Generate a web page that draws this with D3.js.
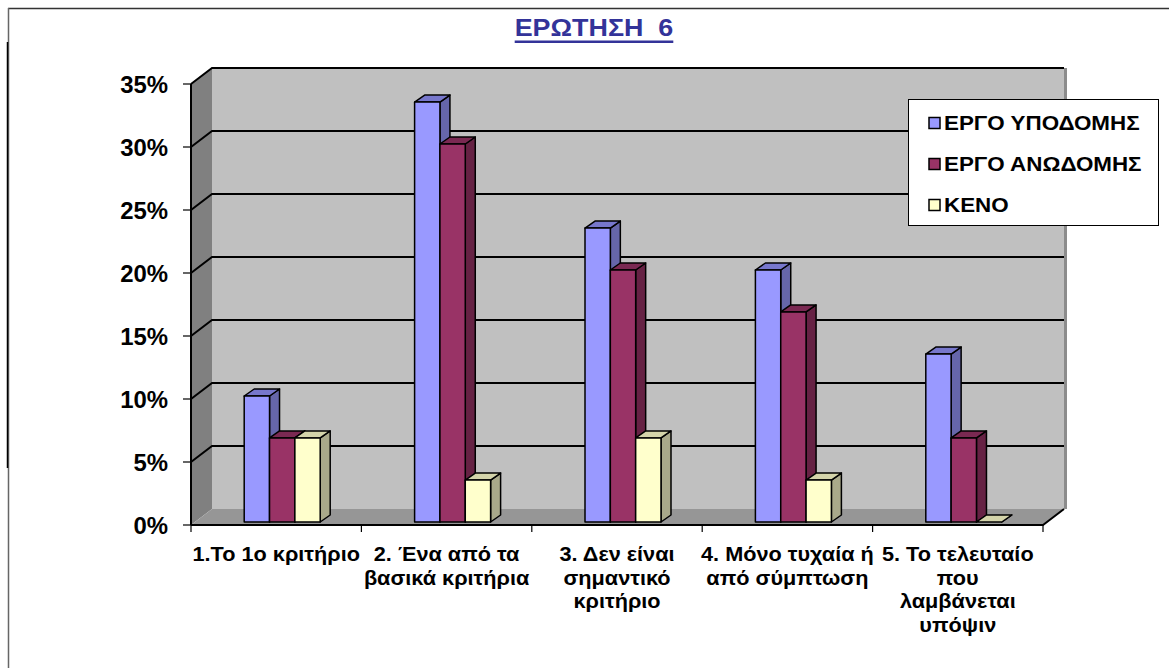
<!DOCTYPE html>
<html>
<head>
<meta charset="utf-8">
<script src="https://cdn.jsdelivr.net/npm/d3@7"></script>
<style>
  body { margin: 0; background: #fff; }
  text { font-family: "Liberation Sans", Arial, sans-serif; font-weight: bold; white-space: pre; }
</style>
</head>
<body>
<div class="chart"></div>
<script>
var categories = [
  "1.Το 1ο κριτήριο",
  "2. Ένα από τα|βασικά κριτήρια",
  "3. Δεν είναι|σημαντικό|κριτήριο",
  "4. Μόνο τυχαία ή|από σύμπτωση",
  "5. Το τελευταίο|που|λαμβάνεται|υπόψιν"
];
var seriesNames = ["ΕΡΓΟ ΥΠΟΔΟΜΗΣ", "ΕΡΓΟ ΑΝΩΔΟΜΗΣ", "ΚΕΝΟ"];
var ypodomis = [0.10, 0.3333, 0.2333, 0.20, 0.1333];
var anodomis = [0.0667, 0.30, 0.20, 0.1667, 0.0667];
var keno = [0.0667, 0.0333, 0.0667, 0.0333, 0];
var yTicks = [0, 0.05, 0.10, 0.15, 0.20, 0.25, 0.30, 0.35];
var chartTitle = "ΕΡΩΤΗΣΗ  6";

var series = [ypodomis, anodomis, keno];
var colors = [
  {front: "#9999ff", top: "#7777cc", side: "#6666aa"},
  {front: "#993366", top: "#7a2952", side: "#662244"},
  {front: "#ffffcc", top: "#d4d4aa", side: "#a9a98a"}
];

var width = 1169, height = 668;
// 3d depth of the walls and of the bars
var depth = {dx: 21, dy: -16};
var barShift = {dx: 6, dy: -3};
var barDepth = {dx: 10, dy: -7};

var x = d3.scaleBand().domain(categories).range([191, 1043]);
var y = d3.scaleLinear().domain([0, 0.35]).range([525, 84]);
var groupWidth = 76;
var xs = d3.scaleBand().domain(d3.range(series.length)).range([0, groupWidth]);

var svg = d3.select(".chart").append("svg")
  .attr("width", width)
  .attr("height", height);

// text in the source is a bit wider than tall, so stretch it sideways
function wideText(parent, tx, ty, sx) {
  return parent.append("g")
    .attr("transform", `translate(${tx},${ty}) scale(${sx},1)`)
    .append("text");
}

// outer frame
svg.append("line").attr("x1", 8).attr("y1", 8.5).attr("x2", width).attr("y2", 8.5)
  .attr("stroke", "#333").attr("stroke-width", 1.5);
svg.append("line").attr("x1", 8.5).attr("y1", 8).attr("x2", 8.5).attr("y2", height)
  .attr("stroke", "#666").attr("stroke-width", 1.5);
svg.append("line").attr("x1", 7.5).attr("y1", 42).attr("x2", 7.5).attr("y2", 468)
  .attr("stroke", "#000").attr("stroke-width", 1.5);

// title
var titleScale = 1.12;
var title = wideText(svg, 594, 36, titleScale)
  .attr("text-anchor", "middle")
  .attr("font-size", 24)
  .attr("fill", "#333399")
  .text(chartTitle);
var tw = title.node().getComputedTextLength() * titleScale;
svg.append("rect")
  .attr("x", 594 - tw / 2).attr("y", 40.5)
  .attr("width", tw).attr("height", 2.5)
  .attr("fill", "#333399");

var x0 = x.range()[0], x1 = x.range()[1];
var yTop = y(0.35), yBase = y(0);

function pts(arr) { return arr.map(p => p.join(",")).join(" "); }

// back wall
svg.append("polygon")
  .attr("points", pts([[x0 + depth.dx, yTop + depth.dy], [x1 + depth.dx, yTop + depth.dy],
    [x1 + depth.dx, yBase + depth.dy], [x0 + depth.dx, yBase + depth.dy]]))
  .attr("fill", "#c0c0c0");
svg.append("line")
  .attr("x1", x1 + depth.dx + 1.5).attr("y1", yTop + depth.dy)
  .attr("x2", x1 + depth.dx + 1.5).attr("y2", yBase + depth.dy)
  .attr("stroke", "#8c8c8c").attr("stroke-width", 3);

// left wall
svg.append("polygon")
  .attr("points", pts([[x0, yTop], [x0 + depth.dx, yTop + depth.dy],
    [x0 + depth.dx, yBase + depth.dy], [x0, yBase]]))
  .attr("fill", "#808080");

// floor
svg.append("polygon")
  .attr("points", pts([[x0, yBase], [x1, yBase], [x1 + depth.dx, yBase + depth.dy], [x0 + depth.dx, yBase + depth.dy]]))
  .attr("fill", "#969696");

// gridlines
var grid = svg.append("g").attr("fill", "none").attr("stroke", "#000").attr("stroke-width", 2);
yTicks.filter(d => d > 0).forEach(function(v) {
  grid.append("polyline")
    .attr("points", pts([[x0, y(v)], [x0 + depth.dx, y(v) + depth.dy], [x1 + depth.dx, y(v) + depth.dy]]));
});

// axes lines
svg.append("line").attr("x1", x0).attr("y1", yTop).attr("x2", x0).attr("y2", yBase)
  .attr("stroke", "#000").attr("stroke-width", 2);
svg.append("polyline")
  .attr("points", pts([[x0, yBase], [x1, yBase], [x1 + depth.dx, yBase + depth.dy]]))
  .attr("fill", "none").attr("stroke", "#000").attr("stroke-width", 2);

// y ticks & labels
var yAxis = svg.append("g");
yAxis.selectAll("line").data(yTicks).enter().append("line")
  .attr("x1", 183).attr("x2", x0).attr("y1", d => y(d)).attr("y2", d => y(d))
  .attr("stroke", "#000").attr("stroke-width", 1.2);
yTicks.forEach(function(v) {
  wideText(yAxis, 168, y(v) + 9, 1.04)
    .attr("text-anchor", "end")
    .attr("font-size", 23)
    .text(Math.round(v * 100) + "%");
});

// x ticks
var xTickPos = categories.map(c => x(c)).concat([x1]);
svg.selectAll(".xtick").data(xTickPos).enter().append("line")
  .attr("x1", d => d).attr("x2", d => d).attr("y1", yBase).attr("y2", yBase + 7)
  .attr("stroke", "#000").attr("stroke-width", 1.2);

// category labels
categories.forEach(function(c) {
  var t = wideText(svg, x(c) + x.bandwidth() / 2, 561, 1.085)
    .attr("text-anchor", "middle")
    .attr("font-size", 20);
  c.split("|").forEach(function(line, i) {
    t.append("tspan")
      .attr("x", 0)
      .attr("y", i * 23.7)
      .text(line);
  });
});

// bars
var bars = svg.append("g").attr("stroke", "#000").attr("stroke-width", 1.5).attr("stroke-linejoin", "round");
categories.forEach(function(c, ci) {
  var gx = x(c) + (x.bandwidth() - groupWidth) / 2 + barShift.dx;
  series.forEach(function(s, si) {
    var bx0 = gx + xs(si), bx1 = bx0 + xs.bandwidth();
    var by0 = y(s[ci]) + barShift.dy, by1 = yBase + barShift.dy;
    var col = colors[si];
    bars.append("polygon")
      .attr("points", pts([[bx1, by0], [bx1 + barDepth.dx, by0 + barDepth.dy],
        [bx1 + barDepth.dx, by1 + barDepth.dy], [bx1, by1]]))
      .attr("fill", col.side);
    bars.append("polygon")
      .attr("points", pts([[bx0, by0], [bx1, by0], [bx1 + barDepth.dx, by0 + barDepth.dy], [bx0 + barDepth.dx, by0 + barDepth.dy]]))
      .attr("fill", col.top);
    if (s[ci] > 0) {
      bars.append("rect")
        .attr("x", bx0).attr("y", by0)
        .attr("width", bx1 - bx0).attr("height", by1 - by0)
        .attr("fill", col.front);
    }
  });
});

// legend
var legend = svg.append("g");
legend.append("rect")
  .attr("x", 908.5).attr("y", 99.5).attr("width", 250).attr("height", 126)
  .attr("fill", "#fff").attr("stroke", "#000").attr("stroke-width", 1);
seriesNames.forEach(function(name, i) {
  var ly = 123 + i * 41;
  legend.append("rect")
    .attr("x", 929).attr("y", ly - 5.5).attr("width", 11).attr("height", 11)
    .attr("fill", colors[i].front).attr("stroke", "#000").attr("stroke-width", 1.5);
  wideText(legend, 944, ly + 7, 1.12)
    .attr("font-size", 20)
    .text(name);
});
</script>
</body>
</html>
